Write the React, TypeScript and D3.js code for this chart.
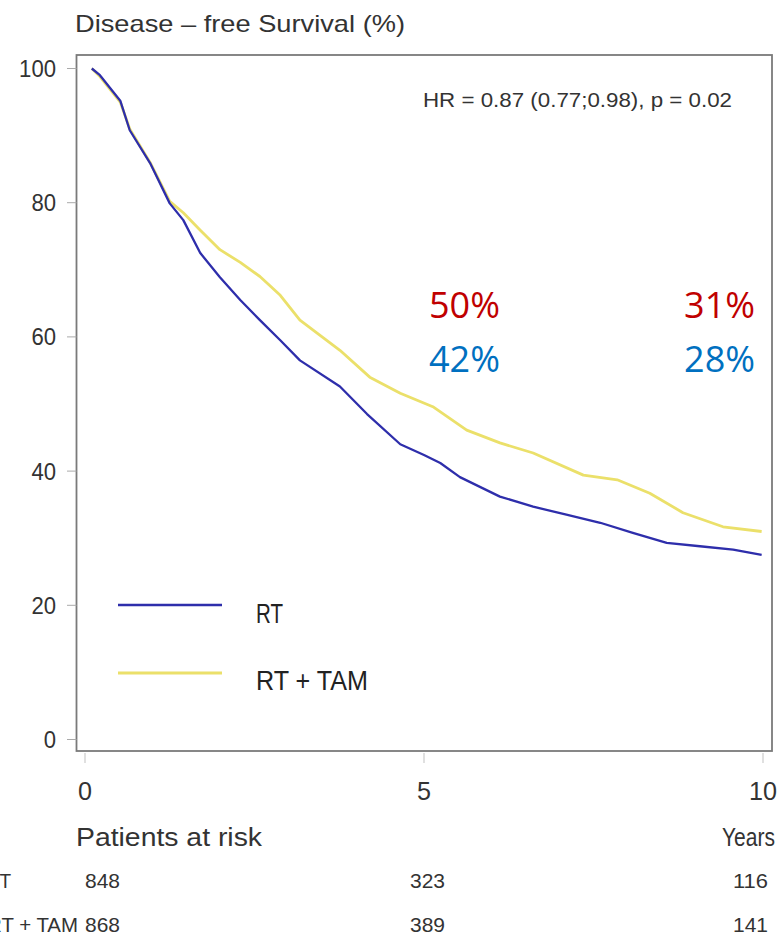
import React from "react";
import * as d3 from "d3";

const yTicks = [0, 20, 40, 60, 80, 100];
const xTicks = [0, 5, 10];

const rtTime = [0.1, 0.22, 0.52, 0.66, 0.96, 1.25, 1.45, 1.7, 1.99, 2.29, 2.58, 2.88, 3.17, 3.76, 4.16, 4.65, 5.0, 5.24, 5.53, 6.12, 6.61, 7.1, 7.6, 8.08, 8.58, 9.07, 9.56, 9.98];
const rtSurv = [100, 99, 95.2, 90.8, 85.9, 79.9, 77.4, 72.5, 68.9, 65.5, 62.5, 59.5, 56.5, 52.6, 48.5, 44.0, 42.4, 41.2, 39.1, 36.2, 34.7, 33.5, 32.3, 30.8, 29.3, 28.8, 28.3, 27.5];

const tamTime = [0.1, 0.22, 0.52, 0.66, 0.96, 1.25, 1.45, 1.7, 1.99, 2.29, 2.58, 2.88, 3.17, 3.76, 4.2, 4.65, 5.13, 5.63, 6.12, 6.61, 7.35, 7.85, 8.33, 8.82, 9.41, 9.98];
const tamSurv = [100, 98.8, 95.0, 91.0, 86.0, 80.2, 78.5, 75.9, 73.0, 71.1, 69.0, 66.2, 62.5, 58.0, 54.0, 51.6, 49.6, 46.1, 44.2, 42.7, 39.4, 38.7, 36.7, 33.8, 31.7, 31.0];

const seriesNames = ["RT", "RT + TAM"];
const seriesColors = ["#2e2eab", "#ebe06a"];

const riskTimes = [0, 5, 10];
const riskRT = [848, 323, 116];
const riskTAM = [868, 389, 141];

const annotYears = [5, 10];
const annotTAM = ["50%", "31%"];
const annotRT = ["42%", "28%"];

const font = "'Liberation Sans', Arial, sans-serif";
const calib = "'Open Sans', 'Noto Sans', sans-serif";

type TP = { x: number; y: number; len?: number; anchor?: string; size: number; fill?: string; family?: string; children: React.ReactNode };
function T({ x, y, len, anchor = "start", size, fill = "#333", family = font, children }: TP) {
  return (
    <text x={x} y={y} textAnchor={anchor} fontFamily={family} fontSize={size} fill={fill}
      textLength={len} lengthAdjust={len ? "spacingAndGlyphs" : undefined}>{children}</text>
  );
}

export default function App() {
  const W = 778, H = 936;
  const x = d3.scaleLinear().domain([0, 10]).range([85, 763]);
  const y = d3.scaleLinear().domain([0, 100]).range([739.5, 68.5]);
  const line = d3.line<[number, number]>().x(d => x(d[0])).y(d => y(d[1])).curve(d3.curveLinear);
  const rtPts: [number, number][] = rtTime.map((t, i) => [t, rtSurv[i]]);
  const tamPts: [number, number][] = tamTime.map((t, i) => [t, tamSurv[i]]);
  const boxL = 76.5, boxT = 55, boxR = 772, boxB = 751;
  const riskX = (i: number) => (i === 0 ? 85 : i === 1 ? 410 : 768);
  const riskA = (i: number) => (i === 0 ? "start" : i === 1 ? "start" : "end");
  return (
    <svg width={W} height={H} style={{ position: "absolute", left: 0, top: 0, background: "#fff" }}>
      <rect x={0} y={0} width={W} height={H} fill="#fff" />
      <T x={75} y={32} size={24} len={330}>Disease – free  Survival  (%)</T>
      <rect x={boxL} y={boxT} width={boxR - boxL} height={boxB - boxT} fill="none" stroke="#7a7a7a" strokeWidth={1.8} />
      {yTicks.map(t => (
        <g key={"y" + t}>
          <line x1={67} x2={boxL} y1={y(t)} y2={y(t)} stroke="#aaa" strokeWidth={1} />
          <T x={56} y={y(t) + 8.5} anchor="end" size={24} len={String(t).length * 12.3}>{t}</T>
        </g>
      ))}
      {xTicks.map(t => (
        <g key={"x" + t}>
          <line x1={x(t)} x2={x(t)} y1={boxB + 2} y2={boxB + 12} stroke="#ccc" strokeWidth={1.2} />
          <T x={x(t)} y={800} anchor="middle" size={25} len={String(t).length * 14}>{t}</T>
        </g>
      ))}
      <T x={423} y={107} size={19.5} len={309}>HR = 0.87  (0.77;0.98),  p = 0.02</T>
      <path d={line(tamPts) || ""} fill="none" stroke={seriesColors[1]} strokeWidth={2.8} strokeLinejoin="round" />
      <path d={line(rtPts) || ""} fill="none" stroke={seriesColors[0]} strokeWidth={2.3} strokeLinejoin="round" />
      {seriesNames.map((n, i) => (
        <g key={n}>
          <line x1={118} x2={222} y1={605 + i * 68} y2={605 + i * 68} stroke={seriesColors[i]} strokeWidth={i === 1 ? 2.8 : 2.3} />
          <T x={256} y={623 + i * 67} size={28} fill="#222" len={i === 0 ? 27 : 112}>{n}</T>
        </g>
      ))}
      {annotYears.map((t, i) => (
        <g key={"a" + t}>
          <T x={i === 0 ? 429 : 755} y={318} anchor={i === 0 ? "start" : "end"} family={calib} size={36} fill="#c00000">{annotTAM[i]}</T>
          <T x={i === 0 ? 429 : 755} y={372} anchor={i === 0 ? "start" : "end"} family={calib} size={36} fill="#0070c0">{annotRT[i]}</T>
        </g>
      ))}
      <T x={76} y={846} size={25} len={186}>Patients  at  risk</T>
      <T x={775} y={846} anchor="end" size={25} len={53}>Years</T>
      <T x={11} y={888} anchor="end" size={21} len={25}>RT</T>
      <T x={78} y={932} anchor="end" size={21} len={91}>RT + TAM</T>
      {riskTimes.map((t, i) => (
        <g key={"r" + t}>
          <T x={riskX(i)} y={888} anchor={riskA(i)} size={21} len={35}>{riskRT[i]}</T>
          <T x={riskX(i)} y={932} anchor={riskA(i)} size={21} len={35}>{riskTAM[i]}</T>
        </g>
      ))}
    </svg>
  );
}
